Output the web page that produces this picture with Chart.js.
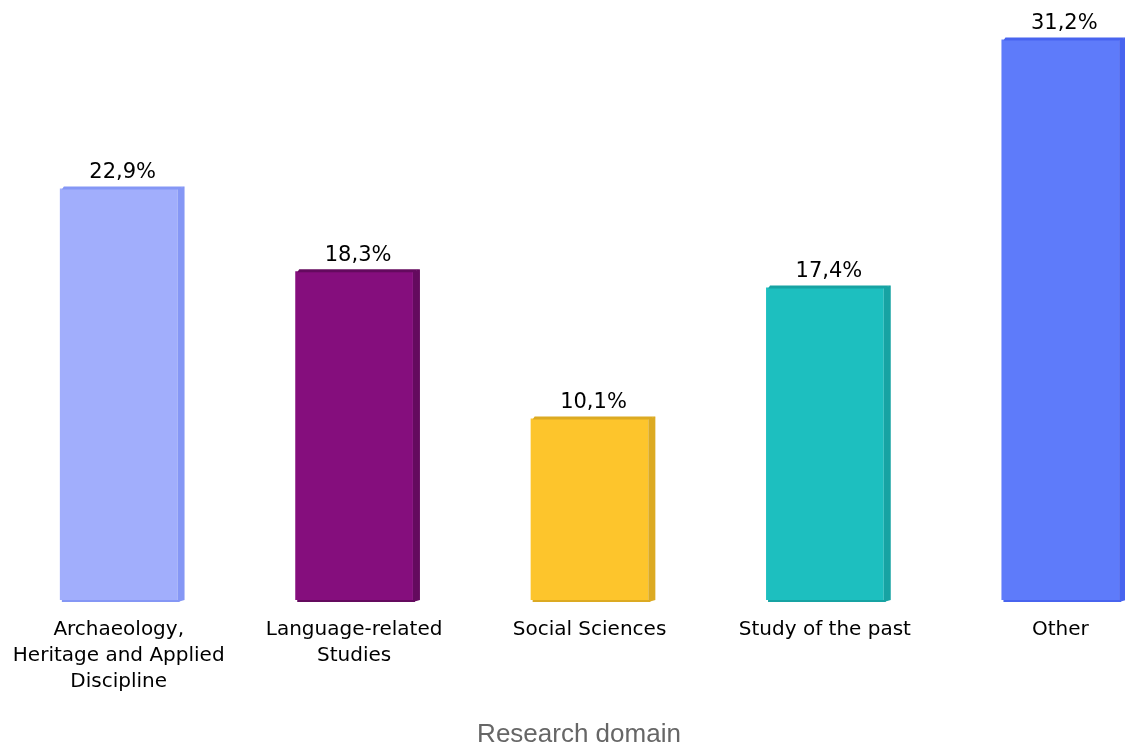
<!DOCTYPE html>
<html>
<head>
<meta charset="utf-8">
<script src="https://cdn.jsdelivr.net/npm/chart.js@4.4.1/dist/chart.umd.min.js"></script>
<style>
  body { margin: 0; background: #fff; }
  #wrap { width: 1125px; height: 752px; overflow: hidden; }
</style>
</head>
<body>
<div id="wrap">
  <canvas id="domainChart" width="1178" height="752"></canvas>
</div>
<script>
// Categories (multi-line labels)
const categories = [
    ['Archaeology,', 'Heritage and Applied', 'Discipline'],
    ['Language-related', 'Studies'],
    'Social Sciences',
    'Study of the past',
    'Other'
];
// Share of each research domain (%)
const shares = [22.9, 18.3, 10.1, 17.4, 31.2];
const faceColors = ['#a1aefc', '#850e7d', '#fdc52c', '#1dbfbf', '#5e7bfa'];
const sideColors = ['#8597f5', '#640a5e', '#dcaa22', '#17a3a3', '#4864ef'];
const axisTitle = 'Research domain';

// Plugin: kant samping 3D + label nilai di atas batang
const barDecor = {
    id: 'barDecor',
    afterDatasetsDraw(chart) {
        const c = chart.ctx;
        const meta = chart.getDatasetMeta(0);
        meta.data.forEach((bar, i) => {
            const p = bar.getProps(['x', 'y', 'base', 'width'], true);
            const r = p.x + p.width / 2;
            const l = p.x - p.width / 2;
            const d = 7;
            c.save();
            // sisi kanan
            c.fillStyle = sideColors[i];
            c.beginPath();
            c.moveTo(r, p.y);
            c.lineTo(r + d, p.y - 2);
            c.lineTo(r + d, p.base);
            c.lineTo(r, p.base + 2);
            c.closePath();
            c.fill();
            // sisi atas
            c.beginPath();
            c.moveTo(l + 2, p.y + 1);
            c.lineTo(l + 4, p.y - 2);
            c.lineTo(r + d, p.y - 2);
            c.lineTo(r, p.y + 1);
            c.closePath();
            c.fill();
            // bayangan bawah
            c.fillStyle = sideColors[i];
            c.fillRect(l + 2, p.base, p.width, 2);
            // label nilai
            c.fillStyle = '#000';
            c.font = '21px "DejaVu Sans"';
            c.textAlign = 'center';
            c.textBaseline = 'middle';
            c.fillText(shares[i].toFixed(1).replace('.', ',') + '%', p.x + 4, p.y - 16);
            c.restore();
        });
        // judul sumbu x
        c.save();
        c.fillStyle = '#666';
        c.font = '26px "Liberation Sans"';
        c.textAlign = 'center';
        c.textBaseline = 'middle';
        c.fillText(axisTitle, 579, 735);
        c.restore();
    }
};

const ctx = document.getElementById('domainChart').getContext('2d');

const domainChart = new Chart(ctx, {
    type: 'bar',
    data: {
        labels: categories,
        datasets: [{
            data: shares,
            backgroundColor: faceColors,
            borderWidth: 0,
            categoryPercentage: 0.5,
            barPercentage: 1
        }]
    },
    options: {
        responsive: false,
        animation: false,
        layout: { padding: { left: 1, right: 0, top: 0, bottom: 0 } },
        plugins: {
            legend: { display: false },
            tooltip: { enabled: false }
        },
        scales: {
            x: {
                grid: { display: false, drawTicks: false },
                border: { display: false },
                ticks: {
                    padding: 17,
                    color: '#000',
                    font: { family: 'DejaVu Sans', size: 20, lineHeight: 1.3 },
                    maxRotation: 0,
                    autoSkip: false
                },
                afterFit: (scale) => {
                    scale.height = 152;
                    scale.paddingLeft = 0;
                    scale.paddingRight = 0;
                }
            },
            y: {
                display: false,
                min: 0,
                max: 33.4
            }
        }
    },
    plugins: [barDecor]
});
</script>
</body>
</html>
